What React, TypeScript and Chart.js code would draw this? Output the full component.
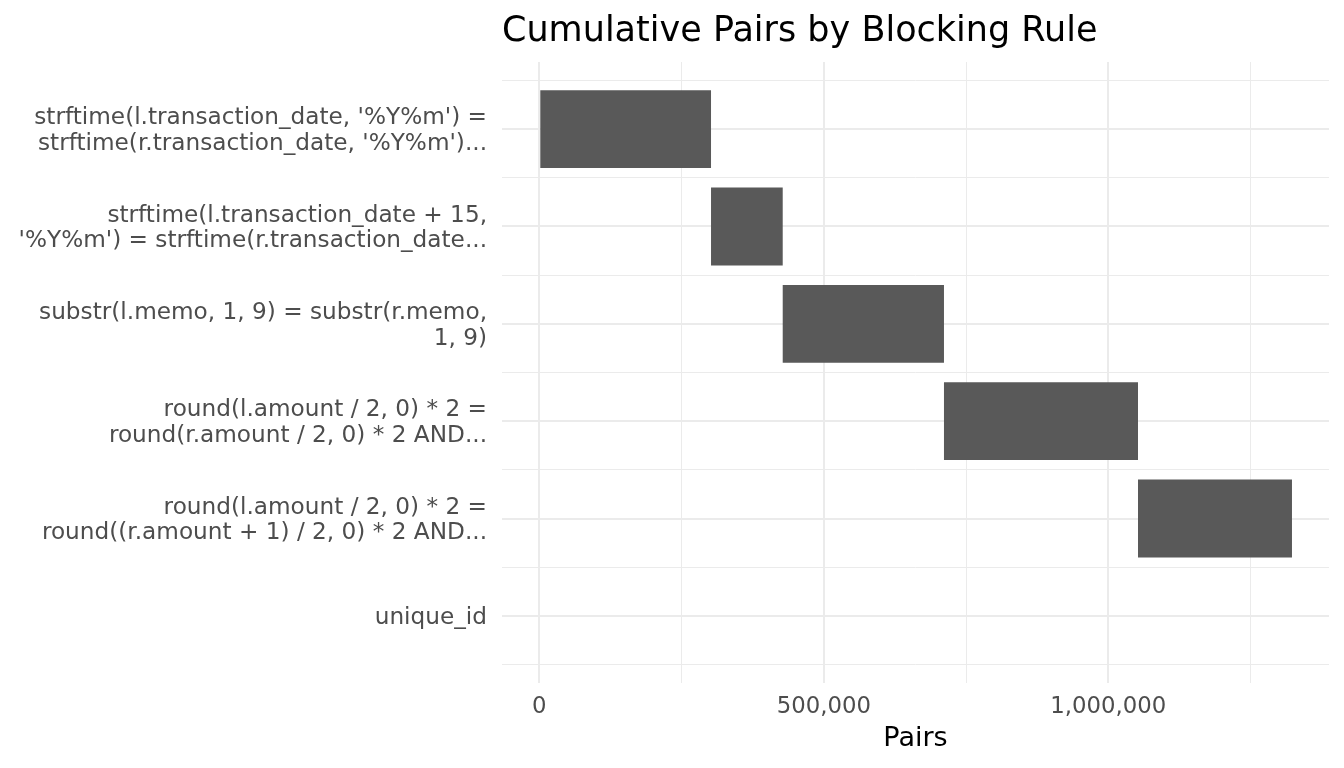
import { useEffect, useRef } from "react";
import { Chart, registerables } from "chart.js";
Chart.register(...registerables);

Chart.defaults.font.family = "'DejaVu Sans', sans-serif";

const ruleLabels: string[][] = [
  ["strftime(l.transaction_date, '%Y%m') =", "strftime(r.transaction_date, '%Y%m')..."],
  ["strftime(l.transaction_date + 15,", "'%Y%m') = strftime(r.transaction_date..."],
  ["substr(l.memo, 1, 9) = substr(r.memo,", "1, 9)"],
  ["round(l.amount / 2, 0) * 2 =", "round(r.amount / 2, 0) * 2 AND..."],
  ["round(l.amount / 2, 0) * 2 =", "round((r.amount + 1) / 2, 0) * 2 AND..."],
  ["unique_id"],
];
// cumulative pairs after each rule
const cumulativePairs = [301800, 427800, 711200, 1052200, 1322800, 1322800];
const xTicks = [0, 250000, 500000, 750000, 1000000, 1250000];

const GRID = "#EBEBEB";

export default function App() {
  const canvasRef = useRef<HTMLCanvasElement>(null);

  useEffect(() => {
    if (!canvasRef.current) return;
    const ctx = canvasRef.current.getContext("2d");
    if (!ctx) return;

    const bars = cumulativePairs.map((end, i) => ({
      y: i,
      x: [i === 0 ? 0 : cumulativePairs[i - 1], end],
    }));
    const yTicks = ruleLabels.flatMap((_, i) => [i - 0.5, i]).concat(ruleLabels.length - 0.5);

    const chart = new Chart(ctx, {
      type: "bar",
      data: {
        datasets: [
          // the ruler uses the half-step minor ticks, so 1.6 of that gap = 0.8 of a category
          { label: "Pairs", data: bars as any, backgroundColor: "#595959", borderWidth: 0, barPercentage: 1.6, categoryPercentage: 1 },
        ],
      },
      options: {
        indexAxis: "y",
        animation: false,
        responsive: true,
        maintainAspectRatio: false,
        layout: { padding: { left: 0, right: 15, top: 0, bottom: 0 } },
        plugins: {
          legend: { display: false },
          tooltip: { enabled: false },
          title: {
            display: true,
            text: "Cumulative Pairs by Blocking Rule",
            align: "start",
            fullSize: false,
            color: "#000000",
            font: { size: 35, weight: "normal" },
            padding: { top: 11, bottom: 9 },
          },
        },
        scales: {
          x: {
            type: "linear",
            min: -65550,
            max: 1387870,
            afterBuildTicks: (axis) => { axis.ticks = xTicks.map((v) => ({ value: v })); },
            afterFit: (axis) => { axis.height = 85; },
            ticks: {
              autoSkip: false,
              padding: 10,
              color: "#4D4D4D",
              font: { size: 22.8 },
              callback: (v) => (Number(v) % 500000 === 0 ? Number(v).toLocaleString("en-US") : ""),
            },
            grid: { color: GRID, lineWidth: (c) => (c.tick && c.tick.value % 500000 === 0 ? 2 : 1), drawTicks: false },
            border: { display: false },
            title: { display: true, text: "Pairs", color: "#000000", font: { size: 27 }, padding: { top: 0, bottom: 13 } },
          },
          y: {
            type: "linear",
            reverse: true,
            offset: false,
            min: -0.69,
            max: 5.69,
            afterBuildTicks: (axis) => { axis.ticks = yTicks.map((v) => ({ value: v })); },
            afterFit: (axis) => { axis.width = 502; },
            ticks: {
              autoSkip: false,
              padding: 15,
              labelOffset: 2,
              color: "#4D4D4D",
              font: { size: 23.2, lineHeight: 1.1 },
              callback: (v) => (Number.isInteger(Number(v)) ? ruleLabels[Number(v)] : ""),
            },
            grid: { offset: false, color: GRID, lineWidth: (c) => (c.tick && Number.isInteger(c.tick.value) ? 2 : 1), drawTicks: false },
            border: { display: false },
          },
        },
      },
    });

    return () => chart.destroy();
  }, []);

  return (
    <div style={{ position: "fixed", left: 0, top: 0, width: 1344, height: 768, background: "#FFFFFF" }}>
      <canvas ref={canvasRef} />
    </div>
  );
}
